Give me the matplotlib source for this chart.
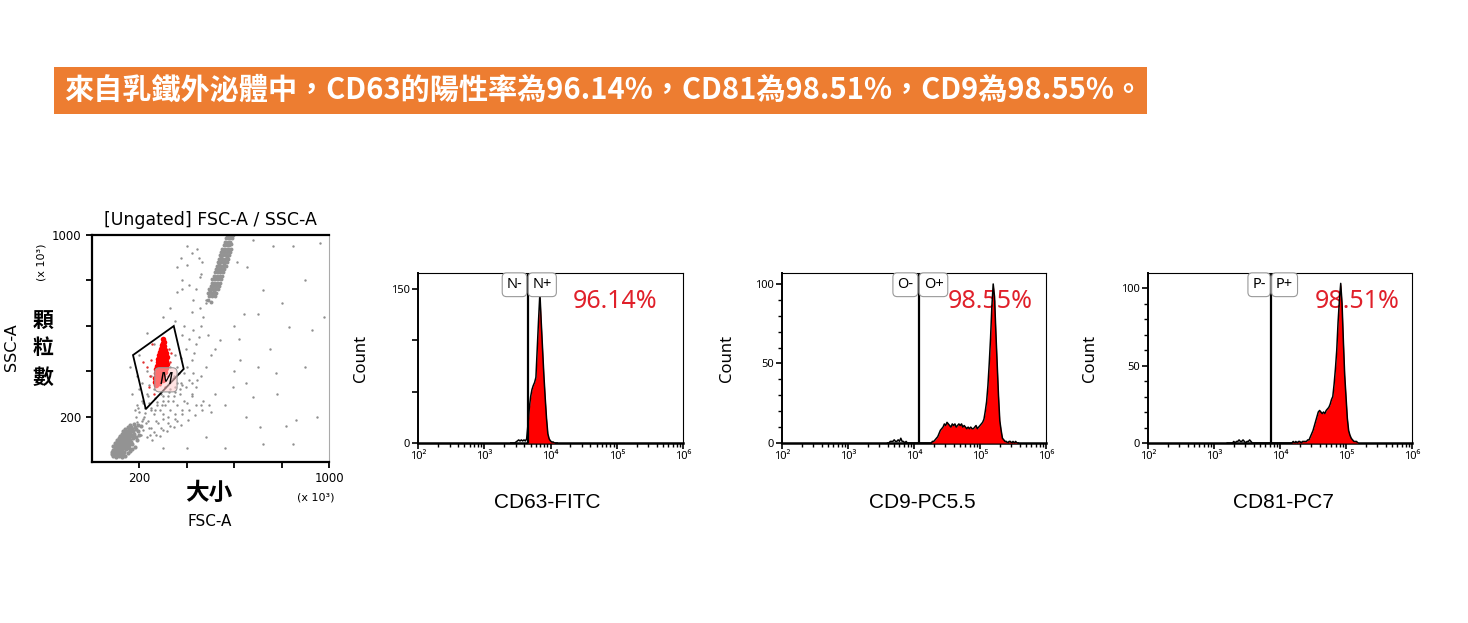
import numpy as np
import matplotlib.pyplot as plt
from matplotlib.patches import Rectangle, Polygon

W, H = 1468, 623

banner_text = "來自乳鐵外泌體中，CD63的陽性率為96.14%，CD81為98.51%，CD9為98.55%。"

# ---- dot plot events, FSC-A / SSC-A (x 10^3) ----
# dense lower-left cloud
core_pts = [(90, 25), (100, 22), (112, 27), (125, 24), (140, 28),
            (86, 35), (95, 37), (105, 33), (118, 36), (130, 34), (150, 38),
            (92, 45), (100, 47), (110, 44), (122, 46), (135, 45), (160, 48),
            (88, 55), (98, 56), (108, 54), (116, 57), (128, 55), (142, 56), (170, 58),
            (95, 65), (104, 66), (114, 64), (125, 67), (137, 65), (150, 66), (182, 68),
            (100, 75), (110, 76), (120, 74), (132, 77), (145, 75), (158, 76),
            (96, 85), (106, 86), (118, 84), (128, 87), (140, 85), (152, 86), (166, 88),
            (104, 95), (115, 96), (126, 94), (138, 97), (150, 95), (162, 96), (190, 98),
            (112, 105), (122, 106), (134, 104), (146, 107), (158, 105), (172, 106),
            (118, 115), (130, 116), (142, 114), (155, 117), (168, 115), (200, 118),
            (125, 125), (138, 126), (150, 124), (162, 127), (178, 125),
            (132, 135), (146, 136), (160, 134), (175, 137), (192, 135),
            (140, 145), (155, 146), (170, 144), (185, 147),
            (150, 155), (165, 156), (182, 154), (205, 157),
            (160, 165), (178, 166), (195, 164),
            (94, 30), (106, 40), (117, 50), (131, 60), (119, 70), (140, 80), (111, 90), (133, 100),
            (152, 110), (143, 130), (97, 50), (128, 40), (146, 70), (161, 90), (175, 120), (102, 60),
            (123, 80), (136, 90), (108, 30), (84, 45), (90, 70), (156, 60), (168, 80), (185, 110)]
core_x = [p[0] for p in core_pts]
core_y = [p[1] for p in core_pts]

# wedge / band between the clouds
band_pts = [(220, 200), (235, 180), (250, 230), (240, 260), (260, 210), (275, 250), (265, 280), (285, 230),
            (300, 270), (290, 300), (310, 250), (320, 290), (330, 320), (340, 270), (350, 310), (360, 350),
            (345, 380), (370, 300), (380, 340), (390, 390), (400, 420), (410, 360), (420, 450), (430, 480),
            (440, 520), (450, 550), (460, 600), (470, 640), (455, 680), (480, 700), (360, 420), (375, 460),
            (395, 500), (410, 540), (425, 580), (390, 600), (200, 220), (190, 250), (180, 230), (210, 270),
            (230, 300), (170, 300), (240, 340), (200, 320), (250, 150), (280, 170), (300, 190), (320, 200),
            (350, 210), (380, 230), (300, 140), (330, 160), (360, 180), (270, 120), (400, 260), (420, 300),
            (440, 330), (460, 380), (480, 420), (500, 470), (520, 500), (490, 560), (330, 420), (350, 470),
            (310, 460), (280, 400), (250, 380), (230, 400), (210, 350), (190, 380), (160, 420), (200, 470),
            (380, 560), (350, 620), (300, 640), (420, 660), (260, 520), (230, 570), (245, 120), (215, 190),
            (230, 110), (260, 130), (290, 150), (320, 170), (350, 190), (380, 210), (410, 230), (440, 250),
            (470, 270), (500, 220), (240, 150), (270, 180), (300, 210), (330, 230), (360, 250), (390, 270),
            (420, 290), (225, 215), (250, 240), (275, 265), (300, 290), (325, 310), (350, 330), (375, 350),
            (195, 240), (215, 260), (235, 290), (260, 320), (285, 340), (310, 360), (340, 370), (365, 390),
            (255, 95), (285, 115), (315, 135), (345, 155), (375, 165), (405, 185), (435, 205), (465, 230),
            (495, 250), (215, 140), (205, 120), (190, 175), (265, 230), (295, 250), (320, 270), (345, 290),
            (370, 320), (395, 330), (420, 350), (445, 360), (210, 180), (228, 170), (185, 200), (222, 240)]
band_x = [p[0] for p in band_pts]
band_y = [p[1] for p in band_pts]

# upper cloud
up_pts = [(495, 730), (508, 730), (518, 730),
          (488, 745), (500, 745), (512, 745), (524, 745),
          (494, 760), (506, 760), (518, 760), (530, 760),
          (500, 775), (512, 775), (524, 775), (536, 775),
          (505, 790), (516, 790), (528, 790), (540, 790),
          (508, 805), (520, 805), (532, 805), (544, 805),
          (514, 820), (526, 820), (538, 820), (550, 820),
          (518, 835), (530, 835), (542, 835), (554, 835),
          (522, 850), (534, 850), (546, 850), (558, 850),
          (528, 865), (540, 865), (552, 865), (564, 865),
          (532, 880), (544, 880), (556, 880), (568, 880),
          (536, 895), (548, 895), (560, 895), (572, 895),
          (542, 910), (554, 910), (566, 910), (578, 910),
          (546, 925), (558, 925), (570, 925), (582, 925),
          (550, 940), (562, 940), (574, 940), (586, 940),
          (556, 955), (568, 955), (580, 955),
          (560, 970), (572, 970), (584, 970),
          (566, 985), (578, 985), (590, 985),
          (570, 1000), (582, 1000), (594, 1000),
          (497, 752), (515, 752), (509, 782), (532, 782), (517, 812), (540, 812), (526, 842), (549, 842),
          (536, 872), (559, 872), (545, 902), (568, 902), (554, 932), (577, 932), (563, 962), (586, 962),
          (574, 992), (588, 992), (490, 715), (502, 705)]
up_x = [p[0] for p in up_pts]
up_y = [p[1] for p in up_pts]

# sparse events
sp_x = [400, 455, 652, 720, 833, 930, 862, 707, 483, 623, 540, 427, 960, 762, 595, 777, 680, 483, 427, 357,
        640, 600, 700, 520, 560, 650, 750, 800, 900, 850, 680, 610, 450, 380, 330, 600, 650, 780, 900, 950,
        720, 560, 400, 850, 300, 620, 980, 700, 820, 460, 360, 380, 400, 420, 440, 460, 375, 410, 445, 465]
sp_y = [950, 815, 860, 757, 595, 580, 185, 154, 110, 450, 537, 392, 963, 950, 332, 392, 287, 715, 715, 860,
        650, 600, 650, 300, 250, 350, 500, 700, 800, 950, 980, 880, 900, 760, 680, 400, 200, 300, 420, 200,
        80, 60, 60, 80, 60, 540, 640, 420, 160, 250, 750, 800, 870, 920, 760, 830, 900, 780, 940, 880]

# gated (red) events
red_x = [298, 300, 295, 303, 292, 300, 308, 288, 296, 305, 312, 284, 292, 300, 308, 316, 280, 288, 296, 304,
         312, 278, 286, 294, 302, 310, 318, 274, 282, 290, 298, 306, 314, 270, 278, 286, 294, 302, 310, 268,
         276, 284, 292, 300, 266, 274, 282, 290, 298, 266, 274, 282, 270, 302, 297]
red_y = [540, 525, 515, 510, 500, 495, 495, 485, 482, 480, 478, 470, 468, 466, 464, 462, 455, 452, 450, 448,
         446, 440, 438, 436, 434, 432, 430, 425, 422, 420, 418, 416, 414, 408, 405, 402, 400, 398, 396, 390,
         387, 384, 382, 380, 372, 368, 365, 362, 360, 354, 350, 347, 340, 530, 505]
red_sp_x = [230, 245, 250, 320, 330, 240, 260, 310, 215, 335, 255, 325]
red_sp_y = [420, 380, 450, 380, 440, 330, 300, 330, 440, 480, 520, 500]
gate_x = [173, 345, 387, 227]
gate_y = [471, 599, 410, 233]

# ---- histograms: log10 of first bin, bin step 0.02, counts per bin ----
step = 0.02
cd63_start = 3.40
cd63_counts = [0, 0, 0, 0, 1, 2, 3, 2, 3, 2, 3, 2, 4, 18, 34, 45, 52, 56, 59, 64,
               92, 120, 146, 118, 92, 66, 44, 24, 9, 4, 2, 1, 1, 0, 0, 0]
cd63_gate = 3.66

cd9_start = 3.60
cd9_counts = [0, 0, 1, 1, 1, 2, 1, 1, 2, 1, 3, 1, 1, 0, 1, 0, 0, 0, 0, 0,
              0, 0, 0, 0, 0, 0, 0, 0, 0, 0, 0, 0, 0, 0, 1, 1, 2, 3, 4, 6,
              8, 9, 10, 12, 11, 13, 12, 11, 10, 12, 11, 12, 10, 11, 12, 11, 12, 10, 11, 10,
              9, 10, 9, 10, 9, 9, 10, 11, 9, 10, 11, 12, 13, 15, 20, 26, 36, 50, 66, 86,
              100, 92, 70, 50, 30, 14, 8, 3, 2, 1, 1, 0, 1, 1, 0, 1, 0, 1, 0, 0]
cd9_gate = 4.076

cd81_start = 3.20
cd81_counts = [0, 0, 0, 0, 0, 1, 0, 1, 1, 2, 1, 1, 2, 1, 0, 1, 1, 2, 1, 0,
               0, 0, 0, 0, 0, 0, 0, 0, 0, 0, 0, 0, 0, 0, 0, 0, 0, 0, 0, 0,
               0, 0, 0, 0, 0, 0, 0, 0, 0, 0, 1, 0, 1, 0, 1, 1, 0, 1, 1, 1,
               1, 2, 2, 4, 6, 8, 11, 14, 17, 20, 21, 20, 19, 20, 19, 21, 22, 23, 25, 28,
               30, 38, 48, 60, 78, 92, 103, 90, 66, 44, 30, 16, 8, 5, 3, 2, 1, 1, 1, 0]
cd81_gate = 3.87

decade_labels = ['10²', '10³', '10⁴', '10⁵', '10⁶']


def px_rect(l, t, r, b):
    return [l / W, 1 - b / H, (r - l) / W, (b - t) / H]


def ftext(x, y, s, **kw):
    fig.text(x / W, 1 - y / H, s, ha=kw.pop('ha', 'center'), va=kw.pop('va', 'center'), **kw)


fig = plt.figure(figsize=(W / 100, H / 100), dpi=100)

# banner
fig.patches.append(Rectangle((54 / W, 1 - 114 / H), (1147 - 54) / W, 47 / H,
                             transform=fig.transFigure, facecolor='#ED7D31', edgecolor='none'))
ftext(64, 90, banner_text, ha='left', color='white', fontsize=21, fontweight='bold',
      family=['Noto Sans CJK TC', 'DejaVu Sans'])

# ---- dot plot ----
ax = fig.add_axes(px_rect(92, 235, 329, 462))
ax.scatter(core_x, core_y, s=9, c='#939393', linewidths=0)
ax.scatter(band_x, band_y, s=3, c='#8f8f8f', linewidths=0)
ax.scatter(up_x, up_y, s=8, c='#939393', linewidths=0)
ax.scatter(sp_x, sp_y, s=3, c='#8f8f8f', linewidths=0)
ax.scatter(red_x, red_y, s=16, c='#ff0000', linewidths=0)
ax.scatter(red_sp_x, red_sp_y, s=3, c='#e03030', linewidths=0)
ax.add_patch(Polygon(list(zip(gate_x, gate_y)), closed=True, fill=False, edgecolor='black', lw=1.3))
ax.text(312, 362, 'M', ha='center', va='center', fontsize=11, style='italic',
        bbox=dict(boxstyle='round,pad=0.3', facecolor=(1, 0.8, 0.8, 0.55), edgecolor='#999999', lw=0.8))
ax.set_xlim(0, 1000)
ax.set_ylim(0, 1000)
ax.set_xticks([200, 400, 600, 800, 1000], ['200', '', '', '', '1000'])
ax.set_yticks([200, 400, 600, 800, 1000], ['200', '', '', '', '1000'])
ax.tick_params(labelsize=8.5, length=4, width=1.3)
for side in ['left', 'bottom', 'top']:
    ax.spines[side].set_linewidth(1.6)
ax.spines['right'].set_linewidth(0.8)
ax.spines['right'].set_color('#aaaaaa')

ftext(210, 220, '[Ungated] FSC-A / SSC-A', fontsize=12.5)
ftext(42, 262, '(x 10³)', fontsize=8, rotation=90)
ftext(12, 347, 'SSC-A', fontsize=11.5, rotation=90)
for ch, yy in zip('顆粒數', [320, 348, 377]):
    ftext(43, yy, ch, fontsize=15, fontweight='bold', family=['Noto Sans CJK TC'])
ftext(209, 493, '大小', fontsize=17, fontweight='bold', family=['Noto Sans CJK TC'])
ftext(210, 522, 'FSC-A', fontsize=11)
ftext(316, 497, '(x 10³)', fontsize=8)


# ---- histograms ----
def hist_panel(rect, start, counts, gate, ytop, ymajor, ylabels, yminor, tags, pct, pct_x, xlabel, xlab_x, count_x):
    ax = fig.add_axes(px_rect(*rect))
    xs = 10 ** (start + step * np.arange(len(counts)))
    cs = np.array(counts, dtype=float)
    ax.fill_between(xs, cs, where=xs >= 10 ** gate, color='#ff0000', lw=0, interpolate=True, zorder=3)
    ax.plot(xs, cs, color='black', lw=1.1, zorder=4)
    ax.axvline(10 ** gate, color='black', lw=1.6, zorder=5)
    ax.set_xscale('log')
    ax.set_xlim(1e2, 1e6)
    ax.set_ylim(0, ytop)
    ax.set_xticks([1e2, 1e3, 1e4, 1e5, 1e6], decade_labels)
    ax.set_yticks(ymajor, ylabels)
    ax.set_yticks(yminor, minor=True)
    for lab in ax.get_xticklabels() + ax.get_yticklabels():
        lab.set_family('Noto Sans')
        lab.set_fontsize(8)
    ax.tick_params(axis='both', which='major', length=4, width=1.2, pad=2)
    ax.tick_params(axis='both', which='minor', length=3, width=1.0)
    ax.spines['bottom'].set_linewidth(1.8)
    ax.spines['left'].set_linewidth(1.4)
    ax.spines['top'].set_linewidth(0.8)
    ax.spines['right'].set_linewidth(0.8)
    box = dict(boxstyle='round,pad=0.3', facecolor='white', edgecolor='#999999', lw=0.8)
    tr = ax.get_xaxis_transform()
    ax.text(10 ** (gate - 0.085), 0.975, tags[0], ha='right', va='top', fontsize=10.5,
            family='Noto Sans', bbox=box, zorder=6, transform=tr)
    ax.text(10 ** (gate + 0.07), 0.975, tags[1], ha='left', va='top', fontsize=10.5,
            family='Noto Sans', bbox=box, zorder=6, transform=tr)
    ftext(pct_x, 302, pct, fontsize=18, color='#e0202a', family='Noto Sans', zorder=-1)
    ftext(xlab_x, 502, xlabel, fontsize=15, family='Liberation Sans')
    ftext(count_x, 358, 'Count', fontsize=12, rotation=90, family='Noto Sans')
    ax.patch.set_alpha(0)
    return ax


hist_panel((418, 273, 683, 443), cd63_start, cd63_counts, cd63_gate, 165.6, [0, 50, 100, 150],
           ['0', '', '', '150'], [], ('N-', 'N+'), '96.14%', 615, 'CD63-FITC', 547, 361)
hist_panel((782, 273, 1046, 443), cd9_start, cd9_counts, cd9_gate, 106.9, [0, 50, 100],
           ['0', '50', '100'], list(range(10, 100, 10)), ('O-', 'O+'), '98.55%', 990, 'CD9-PC5.5', 922, 727)
hist_panel((1148, 273, 1412, 443), cd81_start, cd81_counts, cd81_gate, 109.7, [0, 50, 100],
           ['0', '50', '100'], list(range(10, 100, 10)), ('P-', 'P+'), '98.51%', 1357, 'CD81-PC7', 1283, 1090)

fig.savefig('out.png', dpi=100, facecolor='white')
